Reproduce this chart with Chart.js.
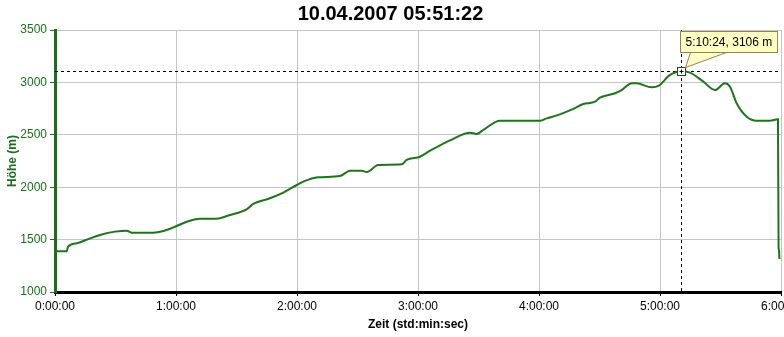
<!DOCTYPE html>
<html>
<head>
<meta charset="utf-8">
<script src="https://cdn.jsdelivr.net/npm/chart.js@4/dist/chart.umd.min.js"></script>
<style>
  html, body { margin: 0; padding: 0; background: #ffffff; }
  #wrap { width: 784px; height: 337px; }
</style>
</head>
<body>
<div id="wrap"><canvas id="c" width="784" height="337"></canvas></div>
<script>
// ---- data (time in minutes since start, altitude in m) ----
const chartTitle = '10.04.2007 05:51:22';
const timeMinutes = [0, 5.9, 6.4, 10.8, 17.4, 22.3, 29.8, 35.6, 38.0, 48.6, 55.4, 60.3, 66.0, 71.9, 80.2, 86.8, 95.0, 98.3, 106.6, 113.2, 119.9, 123.1, 130.4, 141.3, 146.3, 152.1, 154.6, 160.3, 171.9, 174.4, 181.0, 186.0, 195.9, 205.8, 209.1, 212.4, 220.7, 240.5, 243.8, 250.4, 257.0, 262.0, 267.8, 270.2, 277.7, 281.0, 286.0, 288.4, 295.9, 299.2, 305.0, 310.4, 314.9, 321.5, 327.3, 332.2, 334.7, 338.0, 343.0, 347.9, 354.5, 358.5, 358.8, 359.0, 359.2];
const altitude = [1390, 1390, 1430, 1465, 1512, 1544, 1576, 1585, 1566, 1566, 1592, 1630, 1675, 1700, 1700, 1735, 1789, 1840, 1894, 1948, 2021, 2053, 2094, 2107, 2158, 2158, 2145, 2212, 2218, 2260, 2291, 2348, 2447, 2520, 2508, 2546, 2635, 2635, 2657, 2695, 2748, 2794, 2816, 2854, 2896, 2927, 2991, 2991, 2953, 2966, 3071, 3106, 3093, 3007, 2927, 2991, 2959, 2801, 2673, 2635, 2635, 2648, 1420, 1400, 1315];
const xTickLabels = ['0:00:00', '1:00:00', '2:00:00', '3:00:00', '4:00:00', '5:00:00', '6:00:00'];
const yTickValues = [1000, 1500, 2000, 2500, 3000, 3500];
const markerTime = 310.4;
const markerAltitude = 3106;
const markerLabel = '5:10:24, 3106 m';

const GREEN = '#1c6e1c';
const LINE_GREEN = '#1d741d';
const FONT = "'Liberation Sans', Arial, sans-serif";

const points = timeMinutes.map((t, i) => ({ x: t, y: altitude[i] }));

const markerPlugin = {
  id: 'marker',
  beforeDatasetsDraw(chart) {
    const { ctx, chartArea, scales } = chart;
    const px = Math.round(scales.x.getPixelForValue(markerTime)) + 0.5;
    const py = Math.round(scales.y.getPixelForValue(markerAltitude)) + 0.5;
    ctx.save();
    ctx.strokeStyle = '#000000';
    ctx.lineWidth = 1;
    ctx.setLineDash([3, 3]);
    ctx.beginPath();
    ctx.moveTo(chartArea.left, py);
    ctx.lineTo(chartArea.right, py);
    ctx.moveTo(px, chartArea.top);
    ctx.lineTo(px, chartArea.bottom);
    ctx.stroke();
    ctx.restore();
  },
  afterDatasetsDraw(chart) {
    const { ctx, scales } = chart;
    const px = Math.round(scales.x.getPixelForValue(markerTime)) + 0.5;
    const py = Math.round(scales.y.getPixelForValue(markerAltitude)) + 0.5;
    ctx.save();
    // square marker with plus
    ctx.fillStyle = '#ffffff';
    ctx.strokeStyle = '#1a4a1a';
    ctx.lineWidth = 1;
    ctx.fillRect(px - 4, py - 4, 8, 8);
    ctx.strokeRect(px - 4, py - 4, 8, 8);
    ctx.beginPath();
    ctx.strokeStyle = '#000000';
    ctx.moveTo(px - 2, py); ctx.lineTo(px + 2, py);
    ctx.moveTo(px, py - 2); ctx.lineTo(px, py + 2);
    ctx.stroke();
    // callout box
    ctx.font = '12px ' + FONT;
    const tw = ctx.measureText(markerLabel).width;
    const bx = px - 1, by = py - 40, bw = Math.round(tw + 10), bh = 21;
    ctx.fillStyle = '#ffffc4';
    ctx.strokeStyle = '#8a8a50';
    // pointer
    ctx.beginPath();
    ctx.moveTo(bx + 10, by + bh);
    ctx.lineTo(px + 4, py - 4);
    ctx.lineTo(bx + 46, by + bh);
    ctx.closePath();
    ctx.fill();
    ctx.stroke();
    ctx.fillRect(bx, by, bw, bh);
    ctx.strokeRect(bx, by, bw, bh);
    ctx.fillStyle = '#000000';
    ctx.textBaseline = 'middle';
    ctx.textAlign = 'left';
    ctx.fillText(markerLabel, bx + 5, by + bh / 2 + 1);
    ctx.restore();
  }
};

new Chart(document.getElementById('c'), {
  type: 'line',
  data: {
    datasets: [{
      data: points,
      borderColor: LINE_GREEN,
      borderWidth: 2,
      pointRadius: 0,
      fill: false,
      cubicInterpolationMode: 'monotone'
    }]
  },
  options: {
    responsive: false,
    animation: false,
    events: [],
    layout: { padding: { left: 0, right: 3, top: 0, bottom: 0 } },
    plugins: {
      legend: { display: false },
      tooltip: { enabled: false },
      title: {
        display: true,
        text: chartTitle,
        color: '#000000',
        font: { family: FONT, size: 20, weight: 'bold', lineHeight: 1.2 },
        padding: { top: 2, bottom: 4 }
      }
    },
    scales: {
      x: {
        type: 'linear',
        min: 0,
        max: 360,
        afterFit(scale) { scale.height = 45; scale.paddingLeft = 0; scale.paddingRight = 0; },
        afterBuildTicks(scale) {
          scale.ticks = xTickLabels.map((_, i) => ({ value: i * 60 }));
        },
        ticks: {
          color: '#000000',
          font: { family: FONT, size: 12 },
          padding: 3,
          maxRotation: 0,
          autoSkip: false,
          callback: (v) => xTickLabels[Math.round(v / 60)]
        },
        grid: { color: '#c4c4c4', lineWidth: 1, tickLength: 4, tickColor: '#000000' },
        border: { color: '#000000', width: 3 },
        title: {
          display: true,
          text: 'Zeit (std:min:sec)',
          color: '#000000',
          font: { family: FONT, size: 12, weight: 'bold', lineHeight: 1.2 },
          padding: { top: 0, bottom: 5 }
        }
      },
      y: {
        type: 'linear',
        min: 1000,
        max: 3500,
        afterFit(scale) { scale.width = 55; scale.paddingTop = 0; scale.paddingBottom = 0; },
        afterBuildTicks(scale) {
          scale.ticks = yTickValues.map(v => ({ value: v }));
        },
        ticks: {
          color: GREEN,
          font: { family: FONT, size: 12 },
          padding: 3,
          callback: (v) => String(v)
        },
        grid: { color: '#c4c4c4', lineWidth: 1, tickLength: 5, tickColor: GREEN },
        border: { color: GREEN, width: 3 },
        title: {
          display: true,
          text: 'Höhe (m)',
          color: GREEN,
          font: { family: FONT, size: 12, weight: 'bold', lineHeight: 1.2 },
          padding: { top: 5, bottom: 0 }
        }
      }
    }
  },
  plugins: [markerPlugin]
});
</script>
</body>
</html>
